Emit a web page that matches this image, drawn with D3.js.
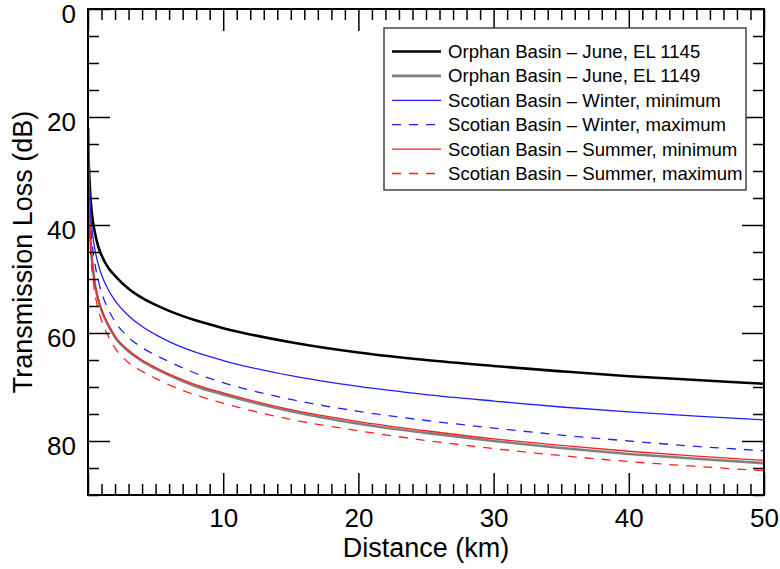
<!DOCTYPE html>
<html>
<head>
<meta charset="utf-8">
<script src="https://cdn.jsdelivr.net/npm/d3@7"></script>
<style>
  html, body { margin: 0; padding: 0; background: #fff; }
  svg { display: block; }
  text { font-family: "Liberation Sans", Arial, Helvetica, sans-serif; fill: #000; }
</style>
</head>
<body>
<svg id="chart" width="780" height="569"></svg>
<script>
// Range from source (km)
const distanceKm = [0.01, 0.02, 0.1, 0.2, 0.35, 0.5, 0.75, 1, 1.5, 2, 3, 4, 5, 6, 8, 10, 15, 20, 25, 30, 35, 40, 45, 50];

// Transmission loss (dB) for each scenario
const orphanEL1145   = [22, 25, 31.0, 35.5, 39.1, 41.3, 43.9, 45.6, 47.9, 49.4, 51.8, 53.5, 54.8, 55.9, 57.7, 59.1, 61.7, 63.6, 65.0, 66.1, 67.1, 68.0, 68.7, 69.4];
const orphanEL1149   = [22, 25, 37.2, 43.5, 47.8, 50.8, 53.8, 55.8, 58.6, 60.8, 63.4, 65.2, 66.6, 67.8, 69.9, 71.4, 74.5, 76.8, 78.5, 80.0, 81.3, 82.4, 83.3, 84.1];
const scotianWinMin  = [22, 25, 33.2, 38.0, 41.9, 44.4, 47.2, 49.2, 52.0, 54.0, 56.8, 58.8, 60.3, 61.6, 63.6, 65.1, 67.9, 69.9, 71.4, 72.6, 73.7, 74.6, 75.4, 76.1];
const scotianWinMax  = [22, 25, 35.0, 40.5, 44.3, 47.0, 50.2, 52.5, 55.6, 57.9, 60.8, 62.7, 64.1, 65.3, 67.5, 69.2, 72.3, 74.5, 76.2, 77.6, 78.9, 80.0, 81.0, 81.8];
const scotianSumMin  = [22, 25, 37.0, 43.3, 47.6, 50.6, 53.6, 55.6, 58.4, 60.6, 63.2, 65.0, 66.4, 67.6, 69.6, 71.1, 74.2, 76.4, 78.1, 79.6, 80.8, 81.9, 82.8, 83.6];
const scotianSumMax  = [22, 25, 38.0, 45.0, 49.5, 52.5, 55.6, 57.7, 60.6, 62.8, 65.5, 67.1, 68.4, 69.6, 71.5, 73.0, 76.0, 78.1, 79.9, 81.4, 82.7, 83.8, 84.7, 85.5];

const seriesNames = [
  "Orphan Basin \u2013 June, EL 1145",
  "Orphan Basin \u2013 June, EL 1149",
  "Scotian Basin \u2013 Winter, minimum",
  "Scotian Basin \u2013 Winter, maximum",
  "Scotian Basin \u2013 Summer, minimum",
  "Scotian Basin \u2013 Summer, maximum"
];
const seriesValues = [orphanEL1145, orphanEL1149, scotianWinMin, scotianWinMax, scotianSumMin, scotianSumMax];

const xTickLabels = [10, 20, 30, 40, 50];
const yTickLabels = [0, 20, 40, 60, 80];

// Line styling per series
const styles = [
  { color: "#000000", width: 2.6, dash: null },
  { color: "#808080", width: 2.6, dash: null },
  { color: "#1f1fff", width: 1.3, dash: null },
  { color: "#1f1fff", width: 1.3, dash: "9,8" },
  { color: "#ff1f1f", width: 1.3, dash: null },
  { color: "#ff1f1f", width: 1.3, dash: "9,8" }
];

const svg = d3.select("#chart");
const margin = { left: 88, top: 9, right: 16, bottom: 74 };
const W = 780 - margin.left - margin.right;
const H = 569 - margin.top - margin.bottom;

const x = d3.scaleLinear().domain([0, 50]).range([0, W]);
const y = d3.scaleLinear().domain([0, 90]).range([0, H]);

const g = svg.append("g").attr("transform", `translate(${margin.left},${margin.top})`);

svg.append("defs").append("clipPath").attr("id", "plotClip")
  .append("rect").attr("width", W).attr("height", H);

// Curves
const line = d3.line()
  .x(d => x(d[0]))
  .y(d => y(d[1]))
  .curve(d3.curveMonotoneX);

const curves = g.append("g").attr("clip-path", "url(#plotClip)");
seriesValues.forEach((vals, i) => {
  const pts = distanceKm.map((dk, j) => [dk, vals[j]]);
  curves.append("path")
    .datum(pts)
    .attr("d", line)
    .attr("fill", "none")
    .attr("stroke", styles[i].color)
    .attr("stroke-width", styles[i].width)
    .attr("stroke-dasharray", styles[i].dash)
    .attr("stroke-linejoin", "round");
});

// Axes: ticks point inward on all four sides
const minorX = d3.range(0, 51, 1).filter(v => v % 10 !== 0);
const minorY = d3.range(0, 91, 5).filter(v => v % 20 !== 0);
const majorX = [0, 10, 20, 30, 40, 50];
const majorY = [0, 20, 40, 60, 80];

function styleAxis(sel) {
  sel.select(".domain").remove();
  sel.selectAll(".tick line").attr("stroke", "#000").attr("stroke-width", 1.5);
  sel.selectAll("text").attr("font-size", 26).attr("font-family", '"Liberation Sans", Arial, sans-serif').attr("fill", "#000");
}

// bottom
g.append("g").attr("transform", `translate(0,${H})`)
  .call(d3.axisBottom(x).tickValues(minorX).tickSize(-11).tickFormat(""))
  .call(styleAxis);
g.append("g").attr("transform", `translate(0,${H})`)
  .call(d3.axisBottom(x).tickValues(majorX).tickSize(-22).tickPadding(14)
    .tickFormat(d => xTickLabels.includes(d) ? String(d) : ""))
  .call(styleAxis);
// top
g.append("g")
  .call(d3.axisTop(x).tickValues(minorX).tickSize(-11).tickFormat(""))
  .call(styleAxis);
g.append("g")
  .call(d3.axisTop(x).tickValues(majorX).tickSize(-22).tickFormat(""))
  .call(styleAxis);
// left
g.append("g")
  .call(d3.axisLeft(y).tickValues(minorY).tickSize(-11).tickFormat(""))
  .call(styleAxis);
g.append("g")
  .call(d3.axisLeft(y).tickValues(majorY).tickSize(-22).tickPadding(12)
    .tickFormat(d => yTickLabels.includes(d) ? String(d) : ""))
  .call(styleAxis)
  .call(s => s.selectAll("text").attr("dy", "0.5em"));
// right
g.append("g").attr("transform", `translate(${W},0)`)
  .call(d3.axisRight(y).tickValues(minorY).tickSize(-11).tickFormat(""))
  .call(styleAxis);
g.append("g").attr("transform", `translate(${W},0)`)
  .call(d3.axisRight(y).tickValues(majorY).tickSize(-22).tickFormat(""))
  .call(styleAxis);

// Frame
g.append("rect")
  .attr("width", W).attr("height", H)
  .attr("fill", "none").attr("stroke", "#000").attr("stroke-width", 2);

// Axis titles
svg.append("text")
  .attr("x", margin.left + W / 2).attr("y", 557)
  .attr("text-anchor", "middle").attr("font-size", 27)
  .text("Distance (km)");
svg.append("text")
  .attr("transform", `translate(32,${margin.top + H / 2}) rotate(-90)`)
  .attr("text-anchor", "middle").attr("font-size", 27)
  .text("Transmission Loss (dB)");

// Legend
const legend = svg.append("g").attr("transform", "translate(384,28)");
legend.append("rect")
  .attr("width", 362).attr("height", 162)
  .attr("fill", "#fff").attr("stroke", "#444").attr("stroke-width", 1.5);
seriesNames.forEach((name, i) => {
  const cy = 23.5 + i * 24.4;
  legend.append("line")
    .attr("x1", 8).attr("x2", 57).attr("y1", cy).attr("y2", cy)
    .attr("stroke", styles[i].color)
    .attr("stroke-width", styles[i].width)
    .attr("stroke-dasharray", styles[i].dash);
  legend.append("text")
    .attr("x", 64).attr("y", cy).attr("dy", "0.35em")
    .attr("font-size", 18.6)
    .text(name);
});
</script>
</body>
</html>
